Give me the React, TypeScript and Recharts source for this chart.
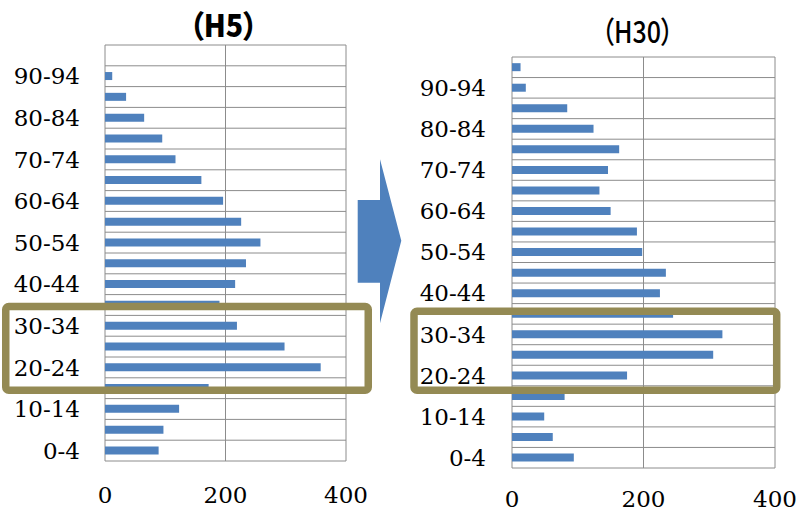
import React from 'react';
import { BarChart, Bar, XAxis, YAxis, CartesianGrid } from 'recharts';

// 5-year age bands, youngest first (top band is 95 and over)
const AGE_GROUPS = [
    '0-4', '5-9', '10-14', '15-19', '20-24', '25-29', '30-34', '35-39', '40-44', '45-49',
    '50-54', '55-59', '60-64', '65-69', '70-74', '75-79', '80-84', '85-89', '90-94', '95-',
];
// only every other band gets a label on the category axis
const SHOWN_AGE_LABELS = ['0-4', '10-14', '20-24', '30-34', '40-44', '50-54', '60-64', '70-74', '80-84', '90-94'];

const H5_COUNTS = [89, 97, 123, 172, 358, 298, 219, 190, 216, 234, 258, 226, 196, 160, 117, 95, 65, 35, 12, 0];
const H30_COUNTS = [94, 62, 49, 80, 175, 306, 320, 245, 225, 234, 198, 190, 150, 133, 146, 163, 124, 84, 21, 13];

const X_TICKS = [0, 200, 400];

const BAR_COLOR = '#4F81BD';
const GRID_COLOR = '#8c8c8c';
const FRAME_COLOR = '#948A54';
const SERIF = '"DejaVu Serif", "Liberation Serif", serif';
const TITLE_FONT = '"Noto Sans CJK JP", "Noto Sans", sans-serif';

interface Row {
    age: string;
    count: number;
}

interface PanelProps {
    data: Row[];
    left: number;
    width: number;
    height: number;
    margin: { top: number; right: number; bottom: number; left: number };
    yAxisWidth: number;
    xAxisHeight: number;
    xTickMargin: number;
    yTickMargin: number;
}

const toRows = (counts: number[]): Row[] => AGE_GROUPS.map((age, i) => ({ age, count: counts[i] }));

const PyramidPanel: React.FC<PanelProps> = ({
    data, left, width, height, margin, yAxisWidth, xAxisHeight, xTickMargin, yTickMargin,
}) => {
    // gridlines sit on the band boundaries, not on the band centres
    const bandLines = ({ offset }: any) => {
        const top = offset?.top ?? margin.top;
        const h = offset?.height ?? height - margin.top - margin.bottom - xAxisHeight;
        const n = data.length;
        return Array.from({ length: n + 1 }, (_, i) => top + (i * h) / n);
    };

    return (
        <div style={{ position: 'absolute', left, top: 0 }}>
            <BarChart
                width={width}
                height={height}
                data={data}
                layout="vertical"
                margin={margin}
                barCategoryGap="30%"
            >
                <CartesianGrid
                    stroke={GRID_COLOR}
                    strokeWidth={1}
                    horizontalCoordinatesGenerator={bandLines}
                />
                <XAxis
                    type="number"
                    domain={[0, 400]}
                    ticks={X_TICKS}
                    height={xAxisHeight}
                    axisLine={false}
                    tickLine={false}
                    tickMargin={xTickMargin}
                    interval={0}
                    tick={{ fill: '#000', fontSize: 23, fontFamily: SERIF }}
                />
                <YAxis
                    type="category"
                    dataKey="age"
                    reversed
                    width={yAxisWidth}
                    axisLine={false}
                    tickLine={false}
                    tickMargin={yTickMargin}
                    interval={0}
                    tickFormatter={(v: string) => (SHOWN_AGE_LABELS.includes(v) ? v : '')}
                    tick={{ fill: '#000', fontSize: 23, fontFamily: SERIF }}
                />
                <Bar dataKey="count" fill={BAR_COLOR} isAnimationActive={false} />
            </BarChart>
        </div>
    );
};

export default function App() {
    const h5Rows = toRows(H5_COUNTS);
    const h30Rows = toRows(H30_COUNTS);

    return (
        <div
            style={{
                position: 'absolute',
                left: 0,
                top: 0,
                width: 798,
                height: 511,
                background: '#fff',
                overflow: 'hidden',
            }}
        >
            <PyramidPanel
                data={h5Rows}
                left={0}
                width={400}
                height={511}
                margin={{ top: 45, right: 54, bottom: 0, left: 0 }}
                yAxisWidth={105}
                xAxisHeight={50}
                xTickMargin={20}
                yTickMargin={19}
            />
            <PyramidPanel
                data={h30Rows}
                left={400}
                width={398}
                height={511}
                margin={{ top: 57, right: 23, bottom: 0, left: 0 }}
                yAxisWidth={112}
                xAxisHeight={43}
                xTickMargin={17}
                yTickMargin={20}
            />

            {/* titles, arrow and highlight frames drawn over both panels */}
            <svg
                width={798}
                height={511}
                style={{ position: 'absolute', left: 0, top: 0, pointerEvents: 'none' }}
            >
                <text
                    x={223.5}
                    y={37}
                    textAnchor="middle"
                    fontFamily={TITLE_FONT}
                    fontWeight={900}
                    fontSize={31}
                    textLength={68}
                    lengthAdjust="spacingAndGlyphs"
                    style={{ fontFeatureSettings: '"palt"' }}
                >
                    （H5）
                </text>
                <text
                    x={637.5}
                    y={43}
                    textAnchor="middle"
                    fontFamily={TITLE_FONT}
                    fontWeight={500}
                    fontSize={30}
                    textLength={72}
                    lengthAdjust="spacingAndGlyphs"
                    style={{ fontFeatureSettings: '"palt"' }}
                >
                    （H30）
                </text>

                <polygon
                    points="357.7,200 380,200 380,159.3 401.3,240.7 380,323.3 380,282.7 357.7,282.7"
                    fill={BAR_COLOR}
                />

                <rect x={5.75} y={306.5} width={362.5} height={83.7} rx={3} fill="none" stroke={FRAME_COLOR} strokeWidth={7.5} />
                <rect x={414} y={311.2} width={362.7} height={79} rx={3} fill="none" stroke={FRAME_COLOR} strokeWidth={7.5} />
            </svg>
        </div>
    );
}
